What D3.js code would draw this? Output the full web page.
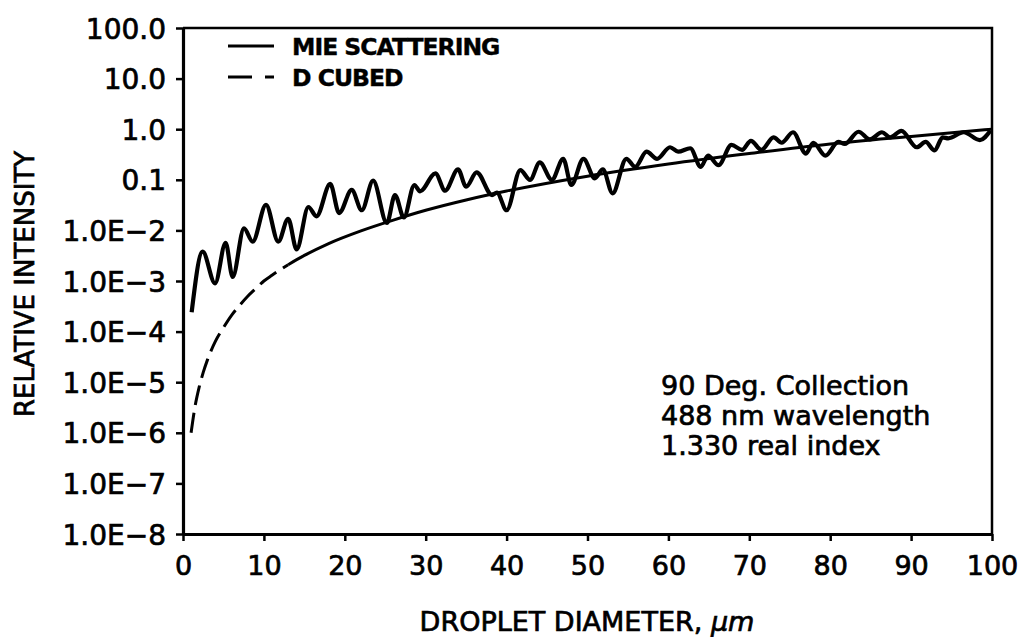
<!DOCTYPE html>
<html>
<head>
<meta charset="utf-8">
<script src="https://cdn.jsdelivr.net/npm/d3@7"></script>
<style>
  html, body { margin: 0; padding: 0; background: #fff; }
  svg { display: block; }
  text { fill: #000; font-family: "DejaVu Sans", sans-serif; stroke: #000; stroke-width: 0.7px; }
  text.legend-label { stroke-width: 0.4px; }
</style>
</head>
<body>
<svg id="chart" width="1021" height="637"></svg>
<script>
// Droplet diameter (µm) and relative intensity for the Mie scattering curve
const mieDiameter = [
  1.07, 2.43, 3.96, 5.27, 6.14, 7.54, 8.61, 10.26, 11.78, 13.0,
  14.05, 15.5, 16.5, 18.2, 19.3, 20.85, 22.1, 23.5, 25.2, 26.2,
  27.3, 28.6, 29.3, 31.2, 32.4, 34.0, 35.0, 36.3, 38.2, 38.8,
  40.0, 41.7, 42.9, 44.1, 45.6, 47.0, 48.0, 49.5, 50.9, 51.9,
  53.1, 54.8, 55.9, 57.3, 58.6, 60.2, 61.2, 62.7, 64.0, 64.9,
  66.2, 67.8, 69.1, 70.2, 71.5, 73.0, 74.0, 75.4, 77.0, 77.9,
  79.4, 81.0, 81.8, 83.5, 84.9, 86.4, 87.4, 88.8, 90.7, 91.8,
  92.9, 93.9, 94.6, 96.5, 98.5, 99.8
];
const mieIntensity = [
  2.4e-4, 3.8e-3, 9e-4, 5.7e-3, 1.2e-3, 0.011, 0.006, 0.032, 0.006, 0.017,
  0.0042, 0.029, 0.019, 0.083, 0.022, 0.063, 0.025, 0.096, 0.014, 0.050,
  0.018, 0.079, 0.059, 0.134, 0.061, 0.16, 0.073, 0.14, 0.050, 0.056,
  0.025, 0.155, 0.10, 0.22, 0.10, 0.26, 0.079, 0.26, 0.107, 0.16,
  0.054, 0.26, 0.18, 0.36, 0.26, 0.44, 0.36, 0.42, 0.18, 0.30,
  0.195, 0.49, 0.39, 0.59, 0.39, 0.69, 0.54, 0.87, 0.33, 0.54,
  0.30, 0.56, 0.51, 0.89, 0.63, 0.87, 0.69, 0.93, 0.44, 0.56,
  0.38, 0.69, 0.66, 0.87, 0.61, 0.93
];

// D-cubed reference curve
const cubedDiameter = [
  1, 1.5, 2, 2.5, 3, 4, 5, 6, 7, 8, 9, 10, 11, 13, 15, 18,
  22, 26, 30, 35, 40, 50, 60, 70, 80, 90, 100
];
const cubedIntensity = [
  1e-6, 3.4e-6, 8e-6, 1.56e-5, 2.7e-5, 6.4e-5, 1.2e-4, 2.1e-4, 3.3e-4, 5e-4, 7.1e-4, 1e-3, 1.3e-3, 2.1e-3, 3.2e-3, 5.5e-3,
  0.0098, 0.016, 0.025, 0.040, 0.060, 0.118, 0.205, 0.33, 0.51, 0.72, 1.0
];
// the D-cubed curve is dashed for small droplets, solid beyond this diameter
const cubedSolidFrom = 13;

// Axis ticks and labels
const xTicks = [0, 10, 20, 30, 40, 50, 60, 70, 80, 90, 100];
const yTicks = [100, 10, 1, 0.1, 1e-2, 1e-3, 1e-4, 1e-5, 1e-6, 1e-7, 1e-8];
const yTickLabels = ["100.0", "10.0", "1.0", "0.1", "1.0E\u22122", "1.0E\u22123",
  "1.0E\u22124", "1.0E\u22125", "1.0E\u22126", "1.0E\u22127", "1.0E\u22128"];

const legendLabels = ["MIE SCATTERING", "D CUBED"];
const noteLines = ["90 Deg. Collection", "488 nm wavelength", "1.330 real index"];

// Layout
const plot = { left: 183, right: 992, top: 28, bottom: 534 };
const svg = d3.select("#chart");

const x = d3.scaleLinear().domain([0, 100]).range([plot.left, plot.right]);
const y = d3.scaleLog().domain([1e-8, 100]).range([plot.bottom, plot.top]);

// Frame: top and right edges
svg.append("path")
  .attr("d", `M${plot.left},${plot.top}H${plot.right}V${plot.bottom}`)
  .attr("fill", "none").attr("stroke", "#000").attr("stroke-width", 2.5);

// Left axis
const yAxis = d3.axisLeft(y)
  .tickValues(yTicks)
  .tickFormat((d, i) => yTickLabels[i])
  .tickSizeInner(7).tickSizeOuter(0).tickPadding(10);
const gy = svg.append("g").attr("transform", `translate(${plot.left},0)`).call(yAxis);
gy.select(".domain").attr("stroke-width", 3.2);
gy.selectAll(".tick line").attr("stroke-width", 2.5);
gy.selectAll(".tick text").attr("font-size", 28).attr("font-family", "DejaVu Sans")
  .attr("dy", "0.36em").attr("fill", "#000");

// Bottom axis
const xAxis = d3.axisBottom(x)
  .tickValues(xTicks)
  .tickFormat(d3.format("d"))
  .tickSizeInner(7).tickSizeOuter(0).tickPadding(8);
const gx = svg.append("g").attr("transform", `translate(0,${plot.bottom})`).call(xAxis);
gx.select(".domain").attr("stroke-width", 3.2);
gx.selectAll(".tick line").attr("stroke-width", 2.5);
gx.selectAll(".tick text").attr("font-size", 27).attr("font-family", "DejaVu Sans")
  .attr("dy", "0.95em").attr("fill", "#000");

// Axis titles
svg.append("text")
  .attr("transform", `translate(34,284) rotate(-90)`)
  .attr("text-anchor", "middle")
  .attr("font-size", 26)
  .text("RELATIVE INTENSITY");

const xTitle = svg.append("text")
  .attr("x", 587).attr("y", 631)
  .attr("text-anchor", "middle")
  .attr("font-size", 27);
xTitle.append("tspan").text("DROPLET DIAMETER, ");
xTitle.append("tspan").attr("font-style", "italic").text("\u03bcm");

// Curves
const line = d3.line()
  .x(d => x(d[0]))
  .y(d => y(d[1]))
  .curve(d3.curveMonotoneX);

const miePts = d3.zip(mieDiameter, mieIntensity);
const cubedPts = d3.zip(cubedDiameter, cubedIntensity);
const cubedDashed = cubedPts.filter(p => p[0] <= cubedSolidFrom);
const cubedSolid = cubedPts.filter(p => p[0] >= cubedSolidFrom);

svg.append("path")
  .datum(cubedDashed)
  .attr("d", line)
  .attr("fill", "none").attr("stroke", "#000")
  .attr("stroke-width", 3)
  .attr("stroke-dasharray", "20,8");

svg.append("path")
  .datum(cubedSolid)
  .attr("d", line)
  .attr("fill", "none").attr("stroke", "#000")
  .attr("stroke-width", 3);

svg.append("path")
  .datum(miePts)
  .attr("d", line)
  .attr("fill", "none").attr("stroke", "#000")
  .attr("stroke-width", 4.2)
  .attr("stroke-linejoin", "round");

// Legend
const legend = svg.append("g");
const legendRows = [
  { label: legendLabels[0], y: 46, dash: null },
  { label: legendLabels[1], y: 77, dash: "24,13" }
];
legendRows.forEach(r => {
  legend.append("line")
    .attr("x1", 228).attr("x2", 274)
    .attr("y1", r.y).attr("y2", r.y)
    .attr("stroke", "#000").attr("stroke-width", 3)
    .attr("stroke-dasharray", r.dash);
  legend.append("text")
    .attr("class", "legend-label")
    .attr("x", 292).attr("y", r.y + 9)
    .attr("font-family", "Liberation Sans, Arial, sans-serif")
    .attr("font-weight", "bold")
    .attr("font-size", 23.5)
    .attr("letter-spacing", -1)
    .text(r.label);
});

// Conditions note
const note = svg.append("text")
  .attr("x", 661).attr("y", 395)
  .attr("font-size", 27);
noteLines.forEach((t, i) => {
  note.append("tspan").attr("x", 661).attr("dy", i === 0 ? 0 : 30).text(t);
});
</script>
</body>
</html>
